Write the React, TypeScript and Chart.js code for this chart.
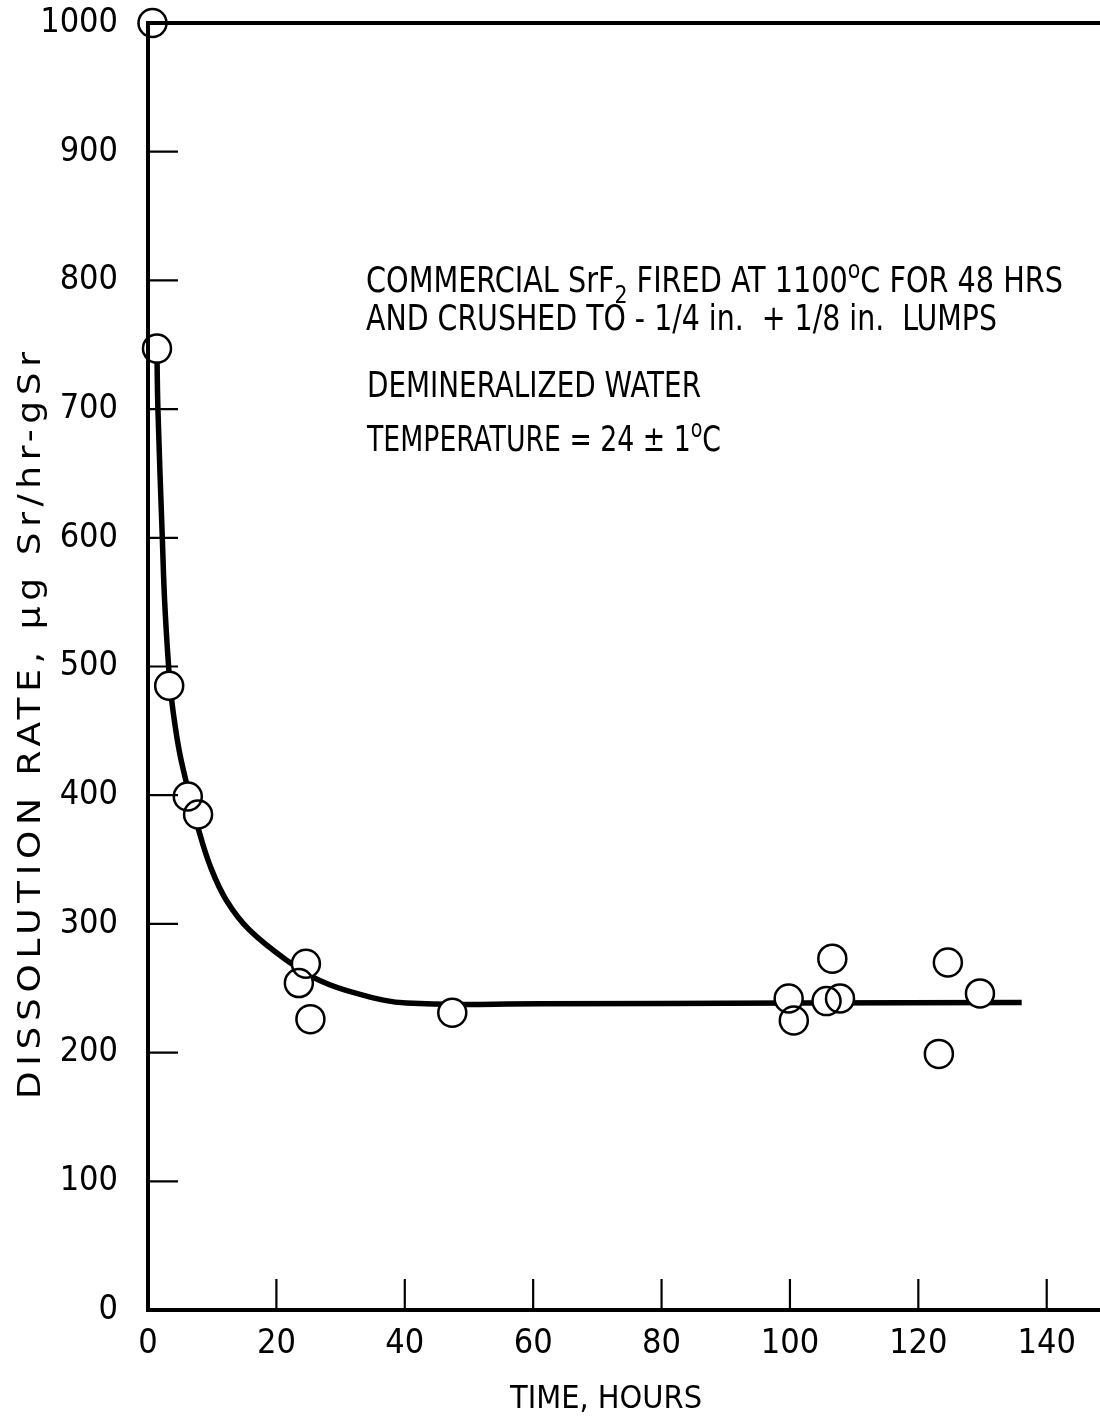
import React, { useEffect, useRef } from "react";
import { Chart, registerables } from "chart.js";

Chart.register(...registerables);

// ---- data ----
const xTickValues = [0, 20, 40, 60, 80, 100, 120, 140];
const yTickValues = [0, 100, 200, 300, 400, 500, 600, 700, 800, 900, 1000];

// measured points (hours, µg Sr/hr-gSr)
const pointX = [0.7, 1.4, 3.3, 6.2, 7.8, 23.5, 24.6, 25.3, 47.4, 99.8, 100.6, 105.7, 106.6, 107.8, 123.2, 124.6, 129.6];
const pointY = [1000, 747, 485, 399, 385, 254, 269, 226, 231, 242, 225, 240, 273, 242, 199, 270, 246];

// hand-drawn fitted curve
const curveX = [1.39, 1.54, 2.23, 2.59, 3.21, 3.68, 4.77, 6.02, 7.89, 9.76, 12.25, 15.85, 22.1, 26.75, 32.5, 40.3, 61, 100, 136.1];
const curveY = [747, 701, 600, 551, 500, 474, 437, 409, 373, 344, 318, 295, 270, 256, 246, 238.5, 238, 238.5, 239];

const xTitle = "TIME, HOURS";
const yTitle = "DISSOLUTION RATE, \u03bcg Sr/hr-gSr";

const FONT = '"Liberation Sans Narrow", "DejaVu Sans Condensed", "Arial Narrow", "Liberation Sans", sans-serif';

type Seg = [string, number]; // 0 normal, 1 subscript, 2 superscript

const noteLines: { segs: Seg[]; x: number; y: number; w: number; size: number }[] = [
  {
    segs: [["COMMERCIAL SrF", 0], ["2", 1], [" FIRED AT 1100", 0], ["o", 2], ["C FOR 48 HRS", 0]],
    x: 366, y: 292, w: 697, size: 35,
  },
  {
    segs: [["AND CRUSHED TO - 1/4 in.  + 1/8 in.  LUMPS", 0]],
    x: 366, y: 330, w: 631, size: 35,
  },
  { segs: [["DEMINERALIZED WATER", 0]], x: 367, y: 397, w: 334, size: 35 },
  {
    segs: [["TEMPERATURE = 24 \u00b1 1", 0], ["o", 2], ["C", 0]],
    x: 367, y: 451, w: 354, size: 35,
  },
];

function drawRich(ctx: CanvasRenderingContext2D, segs: Seg[], x: number, y: number, size: number, targetW: number) {
  const fontFor = (k: number) => `${k ? Math.round(size * 0.72) : size}px ${FONT}`;
  const c: any = ctx;
  const hasSpacing = "letterSpacing" in c;
  if (hasSpacing) c.letterSpacing = "0px";
  let total = 0;
  let nChars = 0;
  for (const [t, k] of segs) {
    ctx.font = fontFor(k);
    total += ctx.measureText(t).width;
    nChars += t.length;
  }
  ctx.save();
  ctx.translate(x, y);
  let sx = targetW / total;
  let spacing = 0;
  if (hasSpacing && sx > 1.25 && nChars > 1) {
    sx = 1.25;
    spacing = (targetW / sx - total) / (nChars - 1);
  }
  ctx.scale(sx, 1);
  ctx.textAlign = "left";
  ctx.textBaseline = "alphabetic";
  let cx = 0;
  for (const [t, k] of segs) {
    ctx.font = fontFor(k);
    if (hasSpacing) c.letterSpacing = `${spacing}px`;
    const dy = k === 1 ? size * 0.3 : k === 2 ? -size * 0.4 : 0;
    ctx.fillText(t, cx, dy);
    if (hasSpacing) c.letterSpacing = "0px";
    cx += ctx.measureText(t).width + spacing * t.length;
  }
  ctx.restore();
  if (hasSpacing) c.letterSpacing = "0px";
}

const decorPlugin = {
  id: "decor",
  afterDatasetsDraw(chart: any) {
    const ctx: CanvasRenderingContext2D = chart.ctx;
    const { left, right, top, bottom } = chart.chartArea;
    const xs = chart.scales.x;
    const ys = chart.scales.y;
    ctx.save();
    ctx.strokeStyle = "#000";
    ctx.fillStyle = "#000";
    ctx.lineCap = "butt";
    // frame: left, bottom, top
    ctx.lineWidth = 4;
    ctx.beginPath();
    ctx.moveTo(right, top);
    ctx.lineTo(left, top);
    ctx.lineTo(left, bottom);
    ctx.lineTo(right, bottom);
    ctx.stroke();
    // inward ticks
    ctx.lineWidth = 2.2;
    ctx.beginPath();
    for (const v of yTickValues) {
      if (v <= 0 || v >= 1000) continue;
      const py = ys.getPixelForValue(v);
      ctx.moveTo(left, py);
      ctx.lineTo(left + 30, py);
    }
    for (const v of xTickValues) {
      if (v <= 0) continue;
      const px = xs.getPixelForValue(v);
      ctx.moveTo(px, bottom);
      ctx.lineTo(px, bottom - 31);
    }
    ctx.stroke();

    // annotation
    for (const l of noteLines) drawRich(ctx, l.segs, l.x, l.y, l.size, l.w);

    // x title
    drawRich(ctx, [[xTitle, 0]], 510, 1408, 32, 192);

    // y title (rotated)
    ctx.save();
    ctx.translate(40, 1099);
    ctx.rotate(-Math.PI / 2);
    drawRich(ctx, [[yTitle, 0]], 0, 0, 32, 747);
    ctx.restore();

    ctx.restore();
  },
};

const zeroPad = (s: any) => {
  s.paddingTop = 0;
  s.paddingBottom = 0;
  s.paddingLeft = 0;
  s.paddingRight = 0;
};

export default function App() {
  const ref = useRef<HTMLCanvasElement | null>(null);

  useEffect(() => {
    if (!ref.current) return;
    const tickFont = { family: FONT, size: 34 };
    const chart = new Chart(ref.current, {
      type: "scatter",
      data: {
        datasets: [
          {
            // outlines on top
            data: pointX.map((x, i) => ({ x, y: pointY[i] })),
            pointRadius: 14,
            pointHoverRadius: 14,
            pointBackgroundColor: "rgba(0,0,0,0)",
            pointBorderColor: "#000",
            pointBorderWidth: 2.5,
            showLine: false,
            clip: false,
            order: 0,
          },
          {
            // white fills covering the curve
            data: pointX.map((x, i) => ({ x, y: pointY[i] })),
            pointRadius: 14,
            pointHoverRadius: 14,
            pointBackgroundColor: "#fff",
            pointBorderColor: "#fff",
            pointBorderWidth: 0,
            showLine: false,
            clip: false,
            order: 1,
          },
          {
            type: "line",
            data: curveX.map((x, i) => ({ x, y: curveY[i] })),
            borderColor: "#000",
            borderWidth: 5.5,
            pointRadius: 0,
            tension: 0.4,
            fill: false,
            showLine: true,
            clip: false,
            order: 2,
          } as any,
        ],
      },
      options: {
        animation: false,
        responsive: false,
        maintainAspectRatio: false,
        devicePixelRatio: 1,
        layout: { autoPadding: false, padding: { top: 23, right: 0, left: 0, bottom: 0 } },
        plugins: { legend: { display: false }, tooltip: { enabled: false }, title: { display: false } },
        scales: {
          x: {
            type: "linear",
            min: 0,
            max: 148.3,
            afterFit: (s: any) => {
              s.height = 116;
              zeroPad(s);
            },
            afterBuildTicks: (s: any) => {
              s.ticks = xTickValues.map((v) => ({ value: v }));
            },
            grid: { display: false, drawTicks: false },
            border: { display: false },
            ticks: {
              font: tickFont,
              color: "#000",
              padding: 14,
              maxRotation: 0,
              autoSkip: false,
              callback: (v: any) => String(v),
            },
          },
          y: {
            type: "linear",
            min: 0,
            max: 1000,
            afterFit: (s: any) => {
              s.width = 148;
              zeroPad(s);
            },
            afterBuildTicks: (s: any) => {
              s.ticks = yTickValues.map((v) => ({ value: v }));
            },
            grid: { display: false, drawTicks: false },
            border: { display: false },
            ticks: { font: tickFont, color: "#000", padding: 30, autoSkip: false, callback: (v: any) => String(v) },
          },
        },
      } as any,
      plugins: [decorPlugin],
    });
    return () => chart.destroy();
  }, []);

  return (
    <div style={{ position: "absolute", left: 0, top: 0, width: 1100, height: 1426, background: "#fff" }}>
      <canvas ref={ref} width={1100} height={1426} style={{ width: 1100, height: 1426, display: "block" }} />
    </div>
  );
}
